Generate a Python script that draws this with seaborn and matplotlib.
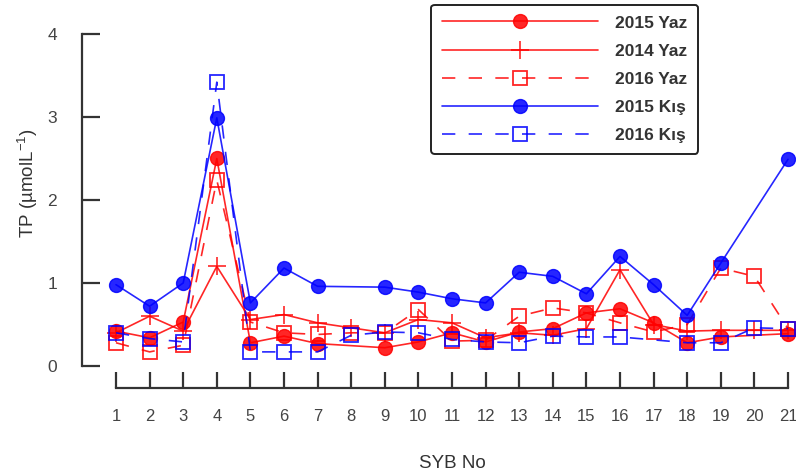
import numpy as np
import pandas as pd
import matplotlib
matplotlib.use("Agg")
import matplotlib.pyplot as plt
import seaborn as sns

# ---- data ----
stations = list(range(1, 22))
nan = np.nan
yaz_2015 = [0.42, 0.34, 0.53, 2.50, 0.28, 0.36, 0.27, nan, 0.22, 0.29, 0.40,
            0.29, 0.41, 0.45, 0.64, 0.69, 0.52, 0.28, 0.35, nan, 0.39]
yaz_2014 = [0.40, 0.60, 0.42, 1.20, 0.56, 0.62, 0.52, 0.46, 0.40, 0.56, 0.52,
            0.34, 0.40, 0.37, 0.45, 1.16, 0.50, 0.42, 0.43, 0.43, 0.43]
yaz_2016 = [0.28, 0.17, 0.25, 2.24, 0.53, 0.40, 0.38, 0.40, 0.40, 0.68, 0.30,
            0.31, 0.60, 0.70, 0.64, 0.52, 0.41, 0.50, 1.18, 1.08, 0.45]
kis_2015 = [0.98, 0.72, 1.00, 2.99, 0.76, 1.18, 0.96, nan, 0.95, 0.89, 0.81,
            0.76, 1.13, 1.08, 0.87, 1.32, 0.98, 0.61, 1.24, nan, 2.49]
kis_2016 = [0.40, 0.33, 0.29, 3.42, 0.17, 0.17, 0.17, 0.37, 0.41, 0.40, 0.32,
            0.29, 0.28, 0.36, 0.35, 0.35, nan, 0.28, 0.28, 0.46, 0.45]
series_names = ["2015 Yaz", "2014 Yaz", "2016 Yaz", "2015 Kış", "2016 Kış"]
series_values = [yaz_2015, yaz_2014, yaz_2016, kis_2015, kis_2016]
y_ticks = [0, 1, 2, 3, 4]

rows = []
for name, vals in zip(series_names, series_values):
    for s, v in zip(stations, vals):
        rows.append({"SYB": s, "TP": v, "series": name})
df = pd.DataFrame(rows).dropna()

sns.set_theme(style="ticks")
plt.rcParams["font.family"] = ["Liberation Sans", "DejaVu Sans"]
plt.rcParams["mathtext.fontset"] = "custom"
plt.rcParams["mathtext.rm"] = "Liberation Sans"
plt.rcParams["mathtext.it"] = "Liberation Sans:italic"
plt.rcParams["lines.scale_dashes"] = True

fig = plt.figure(figsize=(7.96, 4.73), dpi=100)
ax = fig.add_axes([116 / 796, (473 - 366) / 473, (788 - 116) / 796, (366 - 34) / 473])

styles = {
    "2015 Yaz": dict(color="#ff0000", linestyle="-", marker="o", ms=10, mfc="#ff0000", mec="#ff0000", mew=1),
    "2014 Yaz": dict(color="#ff0000", linestyle="-", marker="+", ms=13, mfc="none", mec="#ff0000", mew=1.2),
    "2016 Yaz": dict(color="#ff0000", linestyle=(0, (8, 8)), marker="s", ms=10, mfc="none", mec="#ff0000", mew=1.3),
    "2015 Kış": dict(color="#0000ff", linestyle="-", marker="o", ms=10, mfc="#0000ff", mec="#0000ff", mew=1),
    "2016 Kış": dict(color="#0000ff", linestyle=(0, (8, 8)), marker="s", ms=10, mfc="none", mec="#0000ff", mew=1.3),
}

for name in series_names:
    st = styles[name]
    sub = df[df["series"] == name]
    sns.lineplot(data=sub, x="SYB", y="TP", ax=ax, label=name,
                 color=st["color"], linestyle=st["linestyle"], linewidth=1.2,
                 marker=st["marker"], markersize=st["ms"],
                 markerfacecolor=st["mfc"], markeredgecolor=st["mec"],
                 markeredgewidth=st["mew"], alpha=0.85, clip_on=False,
                 estimator=None, sort=False)

ax.set_xlim(1, 21)
ax.set_ylim(0, 4)
ax.set_xticks(stations)
ax.set_yticks(y_ticks)
ax.set_xticklabels([str(s) for s in stations])
ax.set_yticklabels([str(t) for t in y_ticks])

for side in ["top", "right"]:
    ax.spines[side].set_visible(False)
ax.spines["left"].set_position(("outward", 24.5))
ax.spines["bottom"].set_position(("outward", 16))
ax.spines["left"].set_bounds(0, 4)
ax.spines["bottom"].set_bounds(1, 21)
for side in ["left", "bottom"]:
    ax.spines[side].set_color("#333333")
    ax.spines[side].set_linewidth(1.6)

ax.tick_params(axis="y", direction="in", length=13, width=1.6, color="#333333",
               labelsize=12.5, labelcolor="#444444", pad=18)
ax.tick_params(axis="x", direction="in", length=11.5, width=1.6, color="#333333",
               labelsize=12, labelcolor="#444444", pad=15)

ax.set_xlabel("SYB No", fontsize=13.5, color="#333333", labelpad=22)
ax.set_ylabel("TP (µmolL$^{-1}$)", fontsize=13.5, color="#333333")
ax.yaxis.set_label_coords(-0.113, 0.55)

leg = ax.legend(loc="upper right", bbox_to_anchor=(698 / 796, 1 - 5 / 473),
                bbox_transform=fig.transFigure, borderaxespad=0,
                frameon=True, fancybox=True, framealpha=1, edgecolor="#222222",
                handlelength=9.0, handletextpad=1.0, labelspacing=0.75,
                borderpad=0.6, prop={"weight": "bold", "size": 12.5})
leg.get_frame().set_linewidth(1.4)
for t in leg.get_texts():
    t.set_color("#333333")

fig.savefig("out.png", dpi=100)
